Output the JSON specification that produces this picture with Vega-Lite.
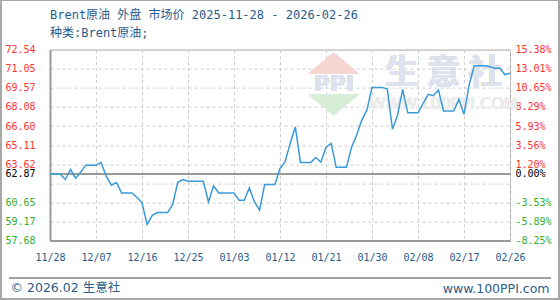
{
  "$schema": "https://vega.github.io/schema/vega-lite/v6.json",
  "width": 460,
  "height": 191,
  "autosize": {"type": "none"},
  "padding": {"left": 50, "top": 49.6, "right": 50, "bottom": 59.4},
  "background": "white",
  "title": {
    "text": "Brent原油 外盘 市场价 2025-11-28 - 2026-02-26",
    "subtitle": "种类:Brent原油;",
    "anchor": "start",
    "frame": "group",
    "font": "DejaVu Sans Mono, Noto Sans CJK SC",
    "fontSize": 12,
    "fontWeight": "normal",
    "color": "#1f5c8b",
    "subtitleFont": "DejaVu Sans Mono, Noto Sans CJK SC",
    "subtitleFontSize": 12,
    "subtitleColor": "#1f5c8b",
    "subtitlePadding": 6,
    "offset": -40.5
  },
  "config": {
    "view": {"stroke": "#aaaaaa", "strokeWidth": 1},
    "axis": {"labelFont": "DejaVu Sans Mono", "labelFontSize": 10, "ticks": false, "domainColor": "#999999", "domainWidth": 2}
  },
  "data": {
    "values": [
      {"date": "2025-11-28", "price": 62.87},
      {"date": "2025-11-29", "price": 62.87},
      {"date": "2025-11-30", "price": 62.87},
      {"date": "2025-12-01", "price": 62.43},
      {"date": "2025-12-02", "price": 63.21},
      {"date": "2025-12-03", "price": 62.54},
      {"date": "2025-12-04", "price": 63.00},
      {"date": "2025-12-05", "price": 63.55},
      {"date": "2025-12-06", "price": 63.55},
      {"date": "2025-12-07", "price": 63.55},
      {"date": "2025-12-08", "price": 63.76},
      {"date": "2025-12-09", "price": 62.69},
      {"date": "2025-12-10", "price": 61.99},
      {"date": "2025-12-11", "price": 62.20},
      {"date": "2025-12-12", "price": 61.39},
      {"date": "2025-12-13", "price": 61.39},
      {"date": "2025-12-14", "price": 61.39},
      {"date": "2025-12-15", "price": 61.05},
      {"date": "2025-12-16", "price": 60.62},
      {"date": "2025-12-17", "price": 58.93},
      {"date": "2025-12-18", "price": 59.65},
      {"date": "2025-12-19", "price": 59.86},
      {"date": "2025-12-20", "price": 59.86},
      {"date": "2025-12-21", "price": 59.86},
      {"date": "2025-12-22", "price": 60.50},
      {"date": "2025-12-23", "price": 62.22},
      {"date": "2025-12-24", "price": 62.43},
      {"date": "2025-12-25", "price": 62.30},
      {"date": "2025-12-26", "price": 62.30},
      {"date": "2025-12-27", "price": 62.30},
      {"date": "2025-12-28", "price": 62.30},
      {"date": "2025-12-29", "price": 60.69},
      {"date": "2025-12-30", "price": 61.94},
      {"date": "2025-12-31", "price": 61.39},
      {"date": "2026-01-01", "price": 61.39},
      {"date": "2026-01-02", "price": 61.39},
      {"date": "2026-01-03", "price": 61.39},
      {"date": "2026-01-04", "price": 60.82},
      {"date": "2026-01-05", "price": 60.82},
      {"date": "2026-01-06", "price": 61.78},
      {"date": "2026-01-07", "price": 60.69},
      {"date": "2026-01-08", "price": 60.04},
      {"date": "2026-01-09", "price": 62.04},
      {"date": "2026-01-10", "price": 62.04},
      {"date": "2026-01-11", "price": 62.04},
      {"date": "2026-01-12", "price": 63.29},
      {"date": "2026-01-13", "price": 63.82},
      {"date": "2026-01-14", "price": 65.26},
      {"date": "2026-01-15", "price": 66.53},
      {"date": "2026-01-16", "price": 63.76},
      {"date": "2026-01-17", "price": 63.76},
      {"date": "2026-01-18", "price": 63.76},
      {"date": "2026-01-19", "price": 64.15},
      {"date": "2026-01-20", "price": 63.78},
      {"date": "2026-01-21", "price": 64.95},
      {"date": "2026-01-22", "price": 65.24},
      {"date": "2026-01-23", "price": 63.39},
      {"date": "2026-01-24", "price": 63.39},
      {"date": "2026-01-25", "price": 63.39},
      {"date": "2026-01-26", "price": 64.95},
      {"date": "2026-01-27", "price": 65.89},
      {"date": "2026-01-28", "price": 67.05},
      {"date": "2026-01-29", "price": 67.83},
      {"date": "2026-01-30", "price": 69.60},
      {"date": "2026-01-31", "price": 69.60},
      {"date": "2026-02-01", "price": 69.60},
      {"date": "2026-02-02", "price": 69.47},
      {"date": "2026-02-03", "price": 66.35},
      {"date": "2026-02-04", "price": 67.44},
      {"date": "2026-02-05", "price": 69.45},
      {"date": "2026-02-06", "price": 67.62},
      {"date": "2026-02-07", "price": 67.62},
      {"date": "2026-02-08", "price": 67.62},
      {"date": "2026-02-09", "price": 68.36},
      {"date": "2026-02-10", "price": 69.06},
      {"date": "2026-02-11", "price": 68.95},
      {"date": "2026-02-12", "price": 69.39},
      {"date": "2026-02-13", "price": 67.76},
      {"date": "2026-02-14", "price": 67.76},
      {"date": "2026-02-15", "price": 67.76},
      {"date": "2026-02-16", "price": 68.67},
      {"date": "2026-02-17", "price": 67.50},
      {"date": "2026-02-18", "price": 69.78},
      {"date": "2026-02-19", "price": 71.29},
      {"date": "2026-02-20", "price": 71.29},
      {"date": "2026-02-21", "price": 71.29},
      {"date": "2026-02-22", "price": 71.22},
      {"date": "2026-02-23", "price": 71.08},
      {"date": "2026-02-24", "price": 71.08},
      {"date": "2026-02-25", "price": 70.60},
      {"date": "2026-02-26", "price": 70.70}
    ]
  },
  "layer": [
    {
      "mark": {"type": "rect", "fill": null, "stroke": "#a8a8a8", "strokeWidth": 1.5, "clip": false},
      "encoding": {
        "x": {"datum": {"year": 2025, "month": 11, "date": 18, "hours": 7, "minutes": 30, "utc": true}, "type": "temporal"},
        "x2": {"datum": {"year": 2026, "month": 3, "date": 7, "hours": 14, "utc": true}},
        "y": {"datum": 76.37, "type": "quantitative", "scale": {"domain": [57.68, 72.54], "nice": false, "zero": false}, "axis": null},
        "y2": {"datum": 53.11}
      }
    },
    {
      "mark": {"type": "rule", "color": "#a0a0a0", "strokeWidth": 1.5, "clip": false},
      "encoding": {
        "x": {"datum": {"year": 2025, "month": 11, "date": 20, "utc": true}, "type": "temporal"},
        "x2": {"datum": {"year": 2026, "month": 3, "date": 6, "utc": true}},
        "y": {"datum": 54.78, "type": "quantitative", "scale": {"domain": [57.68, 72.54], "nice": false, "zero": false}, "axis": null}
      }
    },
    {
      "mark": {"type": "point", "shape": "M-1,0.42L0,-0.42L1,0.42Z", "size": 2500, "filled": true, "fill": "#f5d6d2", "opacity": 1, "strokeWidth": 0},
      "encoding": {
        "x": {"datum": {"year": 2026, "month": 1, "date": 22, "hours": 12, "utc": true}, "type": "temporal"},
        "y": {"datum": 71.47, "type": "quantitative", "scale": {"domain": [57.68, 72.54], "nice": false, "zero": false}, "axis": null}
      }
    },
    {
      "mark": {"type": "point", "shape": "M-1,-0.42L0,0.42L1,-0.42Z", "size": 2500, "filled": true, "fill": "#d9eed9", "opacity": 1, "strokeWidth": 0},
      "encoding": {
        "x": {"datum": {"year": 2026, "month": 1, "date": 22, "hours": 12, "utc": true}, "type": "temporal"},
        "y": {"datum": 68.25, "type": "quantitative", "scale": {"domain": [57.68, 72.54], "nice": false, "zero": false}, "axis": null}
      }
    },
    {
      "mark": {"type": "text", "text": "PPI", "font": "DejaVu Sans", "fontSize": 22, "fontWeight": "bold", "color": "#dde2ee", "align": "center", "baseline": "middle"},
      "encoding": {
        "x": {"datum": {"year": 2026, "month": 1, "date": 22, "hours": 12, "utc": true}, "type": "temporal"},
        "y": {"datum": 69.85, "type": "quantitative", "scale": {"domain": [57.68, 72.54], "nice": false, "zero": false}, "axis": null}
      }
    },
    {
      "mark": {"type": "text", "text": "生 意 社", "font": "Noto Sans CJK SC", "fontSize": 34, "fontWeight": "bold", "color": "#dde2ec", "align": "center", "baseline": "middle"},
      "encoding": {
        "x": {"datum": {"year": 2026, "month": 2, "date": 13, "utc": true}, "type": "temporal"},
        "y": {"datum": 70.68, "type": "quantitative", "scale": {"domain": [57.68, 72.54], "nice": false, "zero": false}, "axis": null}
      }
    },
    {
      "mark": {"type": "text", "text": "WWW.100PPI.COM", "font": "DejaVu Sans", "fontSize": 16, "color": "#ececec", "align": "center", "baseline": "middle"},
      "encoding": {
        "x": {"datum": {"year": 2026, "month": 2, "date": 13, "utc": true}, "type": "temporal"},
        "y": {"datum": 68.3, "type": "quantitative", "scale": {"domain": [57.68, 72.54], "nice": false, "zero": false}, "axis": null}
      }
    },
    {
      "mark": {"type": "line", "color": "#3a9ad9", "strokeWidth": 1.5},
      "encoding": {
        "x": {
          "field": "date",
          "type": "temporal",
          "scale": {"type": "utc", "domain": [{"year": 2025, "month": 11, "date": 28, "utc": true}, {"year": 2026, "month": 2, "date": 26, "utc": true}], "nice": false},
          "axis": {
            "values": [
              {"year": 2025, "month": 11, "date": 28, "utc": true},
              {"year": 2025, "month": 12, "date": 7, "utc": true},
              {"year": 2025, "month": 12, "date": 16, "utc": true},
              {"year": 2025, "month": 12, "date": 25, "utc": true},
              {"year": 2026, "month": 1, "date": 3, "utc": true},
              {"year": 2026, "month": 1, "date": 12, "utc": true},
              {"year": 2026, "month": 1, "date": 21, "utc": true},
              {"year": 2026, "month": 1, "date": 30, "utc": true},
              {"year": 2026, "month": 2, "date": 8, "utc": true},
              {"year": 2026, "month": 2, "date": 17, "utc": true},
              {"year": 2026, "month": 2, "date": 26, "utc": true}
            ],
            "labelExpr": "utcFormat(datum.value, '%m/%d')",
            "labelPadding": 12,
            "labelColor": "#1f5c8b",
            "labelFlush": false,
            "labelOverlap": false,
            "grid": true,
            "gridDash": [3, 3],
            "gridColor": "#cccccc",
            "title": "© 2026.02 生意社",
            "titleX": -40,
            "titleY": 47,
            "titleAlign": "left",
            "titleAnchor": "start",
            "titleBaseline": "middle",
            "titleFont": "DejaVu Sans, Noto Sans CJK SC",
            "titleFontSize": 12.5,
            "titleFontWeight": "normal",
            "titleColor": "#2a5d8a"
          }
        },
        "y": {
          "field": "price",
          "type": "quantitative",
          "scale": {"domain": [57.68, 72.54], "nice": false, "zero": false},
          "axis": {
            "values": [57.68, 59.166, 60.652, 62.138, 62.87, 63.624, 65.11, 66.596, 68.082, 69.568, 71.054, 72.54],
            "labelExpr": "datum.value == 62.138 ? '' : format(datum.value, '.2f')",
            "labelAlign": "left",
            "labelBaseline": "middle",
            "labelPadding": 45,
            "labelOverlap": false,
            "labelBound": false,
            "labelFlush": false,
            "labelColor": {"condition": [{"test": "datum.value > 62.9", "value": "#ff3333"}, {"test": "datum.value < 62.8", "value": "#30b030"}], "value": "#000000"},
            "grid": true,
            "gridDash": {"condition": {"test": "datum.value == 62.87", "value": []}, "value": [3, 3]},
            "gridColor": {"condition": {"test": "datum.value == 62.87", "value": "#999999"}, "value": "#cccccc"},
            "gridWidth": {"condition": {"test": "datum.value == 62.87", "value": 2}, "value": 1},
            "title": null
          }
        }
      }
    },
    {
      "mark": {"type": "line", "opacity": 0},
      "encoding": {
        "x": {"field": "date", "type": "temporal"},
        "y": {
          "field": "price",
          "type": "quantitative",
          "scale": {"domain": [57.68, 72.54], "nice": false, "zero": false},
          "axis": {
            "orient": "right",
            "values": [57.68, 59.166, 60.652, 62.138, 62.87, 63.624, 65.11, 66.596, 68.082, 69.568, 71.054, 72.54],
            "labelExpr": "['-8.25%','-5.89%','-3.53%','','0.00%','1.20%','3.56%','5.93%','8.29%','10.65%','13.01%','15.38%'][indexof([57.68, 59.166, 60.652, 62.138, 62.87, 63.624, 65.11, 66.596, 68.082, 69.568, 71.054, 72.54], datum.value)]",
            "labelAlign": "left",
            "labelBaseline": "middle",
            "labelPadding": 5,
            "labelOverlap": false,
            "labelBound": false,
            "labelFlush": false,
            "labelColor": {"condition": [{"test": "datum.value > 62.9", "value": "#ff3333"}, {"test": "datum.value < 62.8", "value": "#30b030"}], "value": "#000000"},
            "grid": false,
            "domain": false,
            "title": "www.100PPI.com",
            "titleAngle": 0,
            "titleX": 39,
            "titleY": 238.5,
            "titleAlign": "right",
            "titleBaseline": "middle",
            "titleFont": "DejaVu Sans",
            "titleFontSize": 12.5,
            "titleFontWeight": "normal",
            "titleColor": "#2a5d8a"
          }
        }
      }
    }
  ],
  "resolve": {"scale": {"y": "independent"}}
}
